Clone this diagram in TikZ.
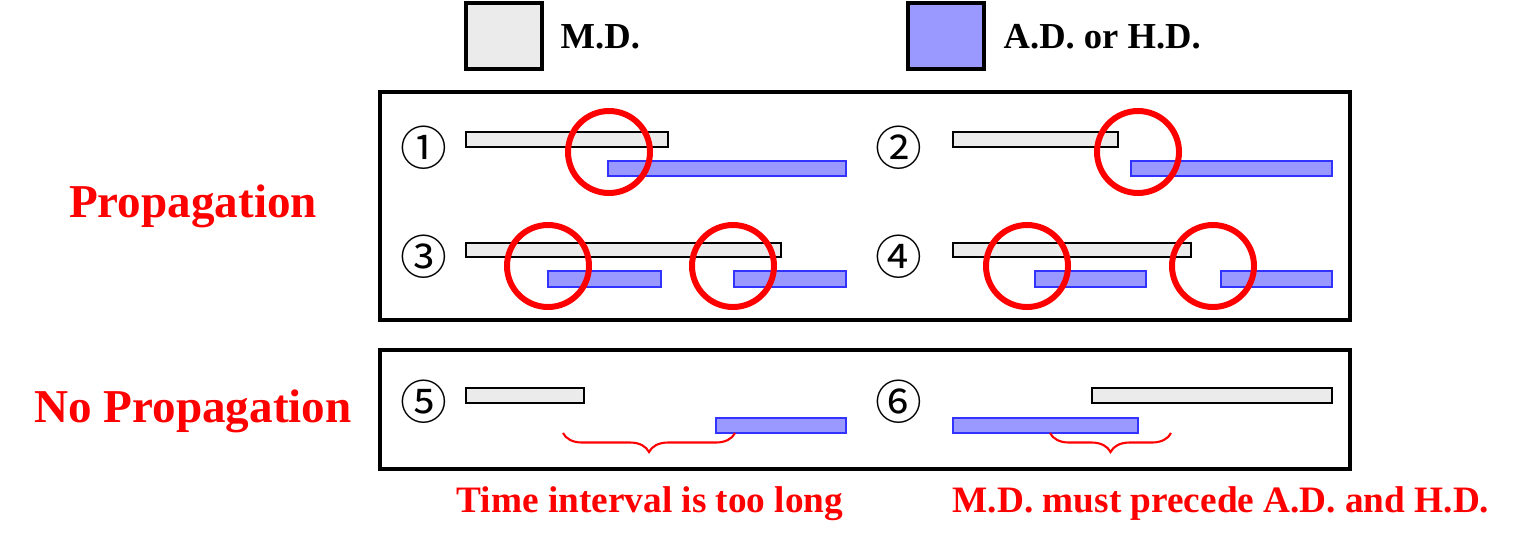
\documentclass[tikz,border=0pt]{standalone}
\usepackage{fontspec}
\setmainfont{Liberation Serif}
\newfontfamily\circfont{Noto Sans CJK JP}
\usetikzlibrary{decorations.pathreplacing}

\definecolor{mdgray}{HTML}{EBEBEB}
\definecolor{adblue}{HTML}{9999FF}
\definecolor{adedge}{HTML}{3333FF}

\tikzset{
  mdbar/.style={draw=black, fill=mdgray, line width=0.6pt},
  adbar/.style={draw=adedge, fill=adblue, line width=0.6pt},
  hit/.style={draw=red, line width=1.7pt},
  frame/.style={draw=black, line width=0.9pt},
  num/.style={font=\circfont\fontsize{13.3}{14}\selectfont, inner sep=0pt},
  legend/.style={font=\bfseries\fontsize{10.4}{12}\selectfont, anchor=base west, inner sep=0pt},
  side/.style={font=\bfseries\fontsize{13.4}{15}\selectfont, text=red, anchor=base, inner sep=0pt},
  note/.style={font=\bfseries\fontsize{10.6}{12}\selectfont, text=red, anchor=base, inner sep=0pt},
  gap/.style={draw=red, line width=0.6pt, decorate,
    decoration={brace, mirror, amplitude=0.19cm}}
}

\begin{document}
\begin{tikzpicture}[x=0.01cm, y=-0.01cm]
  \useasboundingbox (0,0) rectangle (1534,545);

  % legend
  \draw[fill=mdgray, line width=0.9pt] (466,3) rectangle (542,69);
  \node[legend] (mdkey) at (560,48) {M.D.};
  \draw[fill=adblue, line width=0.9pt] (908,3) rectangle (984,69);
  \node[legend] (adkey) at (1003,48) {A.D. or H.D.};

  % frames
  \draw[frame] (380,92) rectangle (1350,320);
  \draw[frame] (380,350) rectangle (1350,469);
  \node[side] (prop) at (193,217) {Propagation};
  \node[side] (noprop) at (193,422) {No Propagation};

  % case 1
  \node[num] (c1) at (424,148) {①};
  \draw[mdbar] (466,132) rectangle (668,147);
  \draw[adbar] (608,161) rectangle (846,176);
  \draw[hit] (609,152) circle [radius=41];

  % case 2
  \node[num] (c2) at (899,148) {②};
  \draw[mdbar] (953,132) rectangle (1118,147);
  \draw[adbar] (1131,161) rectangle (1332,176);
  \draw[hit] (1138,152) circle [radius=41];

  % case 3
  \node[num] (c3) at (424,257) {③};
  \draw[mdbar] (466,243) rectangle (781,257);
  \draw[adbar] (548,271) rectangle (661,287);
  \draw[adbar] (734,271) rectangle (846,287);
  \draw[hit] (548,266) circle [radius=41];
  \draw[hit] (733,266) circle [radius=41];

  % case 4
  \node[num] (c4) at (899,257) {④};
  \draw[mdbar] (953,243) rectangle (1191,257);
  \draw[adbar] (1035,271) rectangle (1146,287);
  \draw[adbar] (1221,271) rectangle (1332,287);
  \draw[hit] (1027,266) circle [radius=41];
  \draw[hit] (1213,266) circle [radius=41];

  % case 5
  \node[num] (c5) at (424,402) {⑤};
  \draw[mdbar] (466,388) rectangle (584,403);
  \draw[adbar] (716,418) rectangle (846,433);
  \coordinate (gap5a) at (563,433);
  \coordinate (gap5b) at (735,433);
  \draw[gap] (gap5a) -- (gap5b);
  \node[note] (toolong) at (650,512) {Time interval is too long};

  % case 6
  \node[num] (c6) at (899,402) {⑥};
  \draw[mdbar] (1092,388) rectangle (1332,403);
  \draw[adbar] (953,418) rectangle (1138,433);
  \coordinate (gap6a) at (1050,433);
  \coordinate (gap6b) at (1171,433);
  \draw[gap] (gap6a) -- (gap6b);
  \node[note] (precede) at (1221,512) {M.D. must precede A.D. and H.D.};
\end{tikzpicture}
\end{document}
